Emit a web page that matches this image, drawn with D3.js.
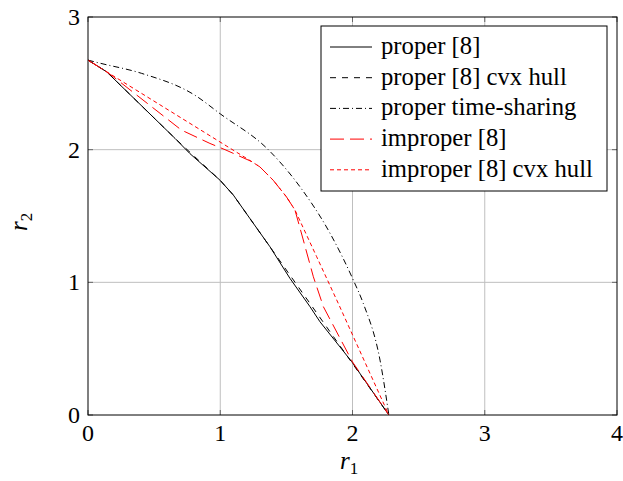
<!DOCTYPE html>
<html>
<head>
<meta charset="utf-8">
<script src="https://cdn.jsdelivr.net/npm/d3@7"></script>
</head>
<body style="margin:0">
<svg class="root" width="623" height="481"></svg>
<script>
// values
var xTicks = [0, 1, 2, 3, 4];
var yTicks = [0, 1, 2, 3];

var properX = [0, 0.141, 0.658, 0.771, 0.998, 1.099, 1.225, 1.376, 1.527, 1.679, 1.754, 1.994, 2.275];
var properY = [2.675, 2.587, 2.085, 1.97, 1.77, 1.658, 1.48, 1.268, 1.03, 0.816, 0.703, 0.402, 0];

var properHullX = [0, 0.141, 0.658, 0.998, 1.099, 2.275];
var properHullY = [2.675, 2.587, 2.085, 1.77, 1.658, 0];

var timeShareX = [0, 0.078, 0.406, 0.809, 1.0, 1.363, 1.603, 1.83, 2.006, 2.082, 2.208, 2.275];
var timeShareY = [2.675, 2.655, 2.575, 2.41, 2.27, 2.0, 1.72, 1.37, 1.017, 0.84, 0.414, 0];

var improperX = [0, 0.141, 0.191, 0.706, 0.922, 1.036, 1.238, 1.30, 1.40, 1.50, 1.565, 1.628, 1.704, 1.78, 2.0, 2.275];
var improperY = [2.675, 2.587, 2.55, 2.148, 2.047, 2.0, 1.91, 1.87, 1.77, 1.645, 1.545, 1.319, 1.042, 0.816, 0.40, 0];

var improperHullX = [0, 0.141, 1.238, 1.30, 1.40, 1.50, 1.565, 1.729, 1.893, 2.275];
var improperHullY = [2.675, 2.587, 1.91, 1.87, 1.77, 1.645, 1.545, 1.193, 0.84, 0];

var legendLabels = ["proper [8]", "proper [8] cvx hull", "proper time-sharing", "improper [8]", "improper [8] cvx hull"];

var series = [
  {xs: properX, ys: properY, color: "#000", dash: null, curve: d3.curveLinear},
  {xs: properHullX, ys: properHullY, color: "#000", dash: "6,6", curve: d3.curveLinear},
  {xs: timeShareX, ys: timeShareY, color: "#000", dash: "6,3,1,3", curve: d3.curveMonotoneX},
  {xs: improperX, ys: improperY, color: "#f00", dash: "14,6", curve: d3.curveLinear},
  {xs: improperHullX, ys: improperHullY, color: "#f00", dash: "4,3", curve: d3.curveLinear}
];

var margin = {top: 17, right: 6, bottom: 66, left: 88},
  width = 623 - margin.left - margin.right,
  height = 481 - margin.top - margin.bottom;

var svg = d3.select(".root");

function serifText(sel, size) {
  return sel.style("font-family", "'Liberation Serif'").attr("font-size", size);
}

var chart = svg.append("g")
  .attr("transform", "translate(" + margin.left + "," + margin.top + ")");

var x = d3.scaleLinear().domain([0, 4]).range([0, width]);
var y = d3.scaleLinear().domain([0, 3]).range([height, 0]);

// grid
chart.append("g").selectAll("line").data(xTicks.slice(1, -1)).enter().append("line")
  .attr("x1", d => x(d)).attr("x2", d => x(d))
  .attr("y1", 0).attr("y2", height)
  .attr("stroke", "#bfbfbf").attr("stroke-width", 1);
chart.append("g").selectAll("line").data(yTicks.slice(1, -1)).enter().append("line")
  .attr("y1", d => y(d)).attr("y2", d => y(d))
  .attr("x1", 0).attr("x2", width)
  .attr("stroke", "#bfbfbf").attr("stroke-width", 1);

// inner tick marks
var tk = 5;
xTicks.forEach(function(t) {
  chart.append("line").attr("x1", x(t)).attr("x2", x(t)).attr("y1", height).attr("y2", height - tk)
    .attr("stroke", "#666");
  chart.append("line").attr("x1", x(t)).attr("x2", x(t)).attr("y1", 0).attr("y2", tk)
    .attr("stroke", "#666");
});
yTicks.forEach(function(t) {
  chart.append("line").attr("y1", y(t)).attr("y2", y(t)).attr("x1", 0).attr("x2", tk)
    .attr("stroke", "#666");
  chart.append("line").attr("y1", y(t)).attr("y2", y(t)).attr("x1", width).attr("x2", width - tk)
    .attr("stroke", "#666");
});

// curves
series.forEach(function(s) {
  var pts = s.xs.map((v, i) => [v, s.ys[i]]);
  var line = d3.line()
    .x(d => x(d[0]))
    .y(d => y(d[1]))
    .curve(s.curve);
  chart.append("path")
    .datum(pts)
    .attr("d", line)
    .attr("fill", "none")
    .attr("stroke", s.color)
    .attr("stroke-width", 1)
    .attr("stroke-dasharray", s.dash);
});

// frame
chart.append("rect")
  .attr("width", width).attr("height", height)
  .attr("fill", "none").attr("stroke", "#000").attr("stroke-width", 1);

// tick labels
serifText(chart.append("g").selectAll("text").data(xTicks).enter().append("text")
  .attr("x", d => x(d)).attr("y", height + 26)
  .attr("text-anchor", "middle"), 24)
  .text(d => d);
serifText(chart.append("g").selectAll("text").data(yTicks).enter().append("text")
  .attr("x", -8).attr("y", d => y(d) + 8)
  .attr("text-anchor", "end"), 24)
  .text(d => d);

// axis titles
var xt = serifText(svg.append("text").attr("x", 340).attr("y", 469), 25);
xt.append("tspan").attr("font-style", "italic").text("r");
xt.append("tspan").attr("font-size", 17).attr("dy", 5).text("1");

var yt = serifText(svg.append("text").attr("transform", "translate(27,231) rotate(-90)"), 25);
yt.append("tspan").attr("font-style", "italic").text("r");
yt.append("tspan").attr("font-size", 17).attr("dy", 5).text("2");

// legend
var lg = svg.append("g").attr("transform", "translate(321,26)");
lg.append("rect")
  .attr("width", 286).attr("height", 165)
  .attr("fill", "#fff").attr("stroke", "#000").attr("stroke-width", 1);

lg.selectAll("line.key").data(series).enter().append("line")
  .attr("class", "key")
  .attr("x1", 9).attr("x2", 51)
  .attr("y1", (d, i) => 21 + i * 30.7).attr("y2", (d, i) => 21 + i * 30.7)
  .attr("stroke", d => d.color).attr("stroke-width", 1)
  .attr("stroke-dasharray", d => d.dash);

serifText(lg.selectAll("text").data(legendLabels).enter().append("text")
  .attr("x", 60).attr("y", (d, i) => 28 + i * 30.7), 24.7)
  .text(d => d);
</script>
</body>
</html>
